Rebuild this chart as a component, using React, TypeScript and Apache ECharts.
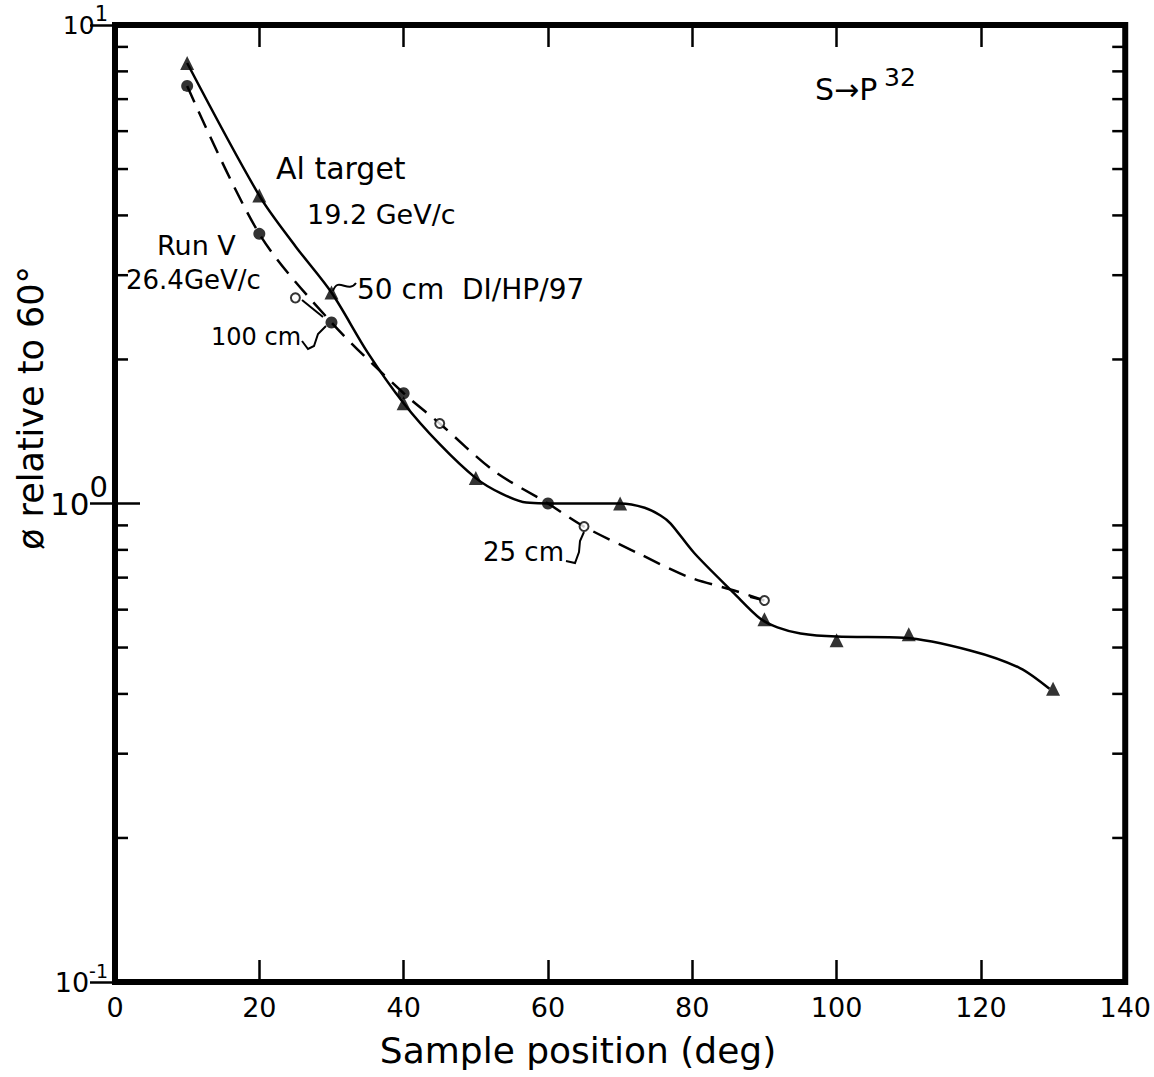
import React, { useEffect, useRef } from "react";
import * as echarts from "echarts";

// ---- data ----
const xTickLabels = ["0", "20", "40", "60", "80", "100", "120", "140"];

// 50 cm, 19.2 GeV/c (triangles, solid curve)
const triX = [10, 20, 30, 40, 50, 70, 90, 100, 110, 130];
const triY = [8.33, 4.4, 2.76, 1.62, 1.13, 1.0, 0.573, 0.518, 0.533, 0.41];

// 100 cm, Run V 26.4 GeV/c (filled circles)
const dotX = [10, 20, 30, 40, 60];
const dotY = [7.46, 3.66, 2.39, 1.7, 1.0];

// 25 cm (open circles)
const ringX = [25, 45, 65, 90];
const ringY = [2.69, 1.47, 0.895, 0.627];

// hand-drawn solid curve
const solidX = [10, 20, 25, 30, 35, 40, 45, 50, 53.5, 57, 63, 70, 73.4, 75.6, 77, 80.3, 85.8, 89.4, 91.8, 95, 100, 109.3, 118.5, 125.4, 129.5];
const solidY = [8.33, 4.4, 3.45, 2.76, 2.07, 1.62, 1.33, 1.13, 1.05, 1.005, 1.0, 1.0, 0.98, 0.944, 0.908, 0.787, 0.649, 0.575, 0.551, 0.535, 0.527, 0.524, 0.493, 0.453, 0.41];

// hand-drawn dashed curve
const dashX = [10, 20, 30, 40, 45, 52.5, 60, 65, 72.5, 79.5, 85.8, 90];
const dashY = [7.46, 3.66, 2.39, 1.7, 1.47, 1.17, 1.0, 0.895, 0.787, 0.702, 0.658, 0.627];

// log-axis minor tick values
const minorTicks = [0.2, 0.3, 0.4, 0.5, 0.6, 0.7, 0.8, 0.9, 2, 3, 4, 5, 6, 7, 8, 9];

const FONT = "'DejaVu Sans', 'Liberation Sans', sans-serif";

const zip = (xs: number[], ys: number[]) => xs.map((x, i) => [x, ys[i]]);

export default function App() {
  const ref = useRef<HTMLDivElement>(null);
  useEffect(() => {
    if (!ref.current) return;
    const chart = echarts.init(ref.current, null, { renderer: "svg" });
    const black = "#000";
    const yLabelRich = {
      b1: { fontSize: 25, fontFamily: FONT, color: black },
      s1: { fontSize: 21, fontFamily: FONT, color: black, padding: [0, 0, 22, 0] },
      b0: { fontSize: 31, fontFamily: FONT, color: black },
      s0: { fontSize: 29, fontFamily: FONT, color: black, padding: [0, 0, 34, 0] },
      bm: { fontSize: 27, fontFamily: FONT, color: black },
      sm: { fontSize: 19, fontFamily: FONT, color: black, padding: [0, 0, 22, 0] },
    };
    const option: any = {
      animation: false,
      backgroundColor: "#fff",
      grid: {
        left: 115,
        right: 26,
        top: 25,
        bottom: 95,
        show: true,
        borderColor: black,
        borderWidth: 6,
        backgroundColor: "transparent",
      },
      xAxis: [
        {
          type: "value",
          min: 0,
          max: 140,
          interval: 20,
          position: "bottom",
          axisLine: { show: false },
          splitLine: { show: false },
          axisTick: { inside: true, length: 22, lineStyle: { color: black, width: 2.5 } },
          axisLabel: {
            margin: 12,
            fontSize: 27,
            fontFamily: FONT,
            color: black,
            formatter: (v: number) => xTickLabels[Math.round(v / 20)] ?? String(v),
          },
        },
        {
          type: "value",
          min: 0,
          max: 140,
          interval: 20,
          position: "top",
          axisLine: { show: false },
          splitLine: { show: false },
          axisTick: { inside: true, length: 22, lineStyle: { color: black, width: 2.5 } },
          axisLabel: { show: false },
        },
      ],
      yAxis: [
        {
          type: "log",
          logBase: 10,
          min: 0.1,
          max: 10,
          position: "left",
          axisLine: { show: false },
          splitLine: { show: false },
          axisTick: { inside: true, length: 25, lineStyle: { color: black, width: 2.5 } },
          axisLabel: {
            margin: 7,
            formatter: (v: number) => {
              const e = Math.round(Math.log10(v));
              if (e === 1) return "{b1|10}{s1|1}";
              if (e === 0) return "{b0|10}{s0|0}";
              return "{bm|10}{sm|-1}";
            },
            rich: yLabelRich,
          },
        },
        {
          type: "log",
          logBase: 10,
          min: 0.1,
          max: 10,
          position: "right",
          axisLine: { show: false },
          splitLine: { show: false },
          axisTick: { inside: true, length: 25, lineStyle: { color: black, width: 2.5 } },
          axisLabel: { show: false },
        },
      ],
      series: [
        {
          type: "custom",
          name: "minor ticks",
          silent: true,
          xAxisIndex: 0,
          yAxisIndex: 0,
          encode: { x: 0, y: 1 },
          data: minorTicks.map((v) => [0, v]),
          renderItem: (params: any, api: any) => {
            const y = api.coord([0, api.value(1)])[1];
            const cs = params.coordSys;
            const st = { stroke: black, lineWidth: 2.5 };
            return {
              type: "group",
              children: [
                { type: "line", shape: { x1: cs.x, y1: y, x2: cs.x + 13, y2: y }, style: st },
                { type: "line", shape: { x1: cs.x + cs.width - 13, y1: y, x2: cs.x + cs.width, y2: y }, style: st },
              ],
            };
          },
        },
        {
          type: "line",
          name: "50 cm curve",
          data: zip(solidX, solidY),
          smooth: 0.3,
          showSymbol: false,
          silent: true,
          lineStyle: { color: black, width: 2.5 },
          z: 3,
        },
        {
          type: "line",
          name: "100 cm / 25 cm curve",
          data: zip(dashX, dashY),
          smooth: 0.3,
          showSymbol: false,
          silent: true,
          lineStyle: { color: black, width: 2.5, type: [18, 10] },
          z: 3,
        },
        {
          type: "scatter",
          name: "50 cm",
          data: zip(triX, triY),
          symbol: "triangle",
          symbolSize: 14,
          itemStyle: { color: black },
          z: 5,
        },
        {
          type: "scatter",
          name: "100 cm",
          data: zip(dotX, dotY),
          symbol: "circle",
          symbolSize: 12,
          itemStyle: { color: black },
          z: 5,
        },
        {
          type: "scatter",
          name: "25 cm",
          data: zip(ringX, ringY),
          symbol: "circle",
          symbolSize: 9,
          itemStyle: { color: "#fff", borderColor: black, borderWidth: 2 },
          z: 6,
        },
      ],
      graphic: [
        {
          type: "text",
          x: 578,
          y: 1050,
          style: { text: "Sample position (deg)", fontSize: 36, fontFamily: FONT, fill: black, align: "center", verticalAlign: "middle" },
        },
        {
          type: "text",
          x: 31,
          y: 408,
          rotation: Math.PI / 2,
          style: { text: "ø relative to 60°", fontSize: 35, fontFamily: FONT, fill: black, align: "center", verticalAlign: "middle" },
        },
        {
          type: "text",
          x: 815,
          y: 89,
          style: { text: "S→P", fontSize: 30, fontFamily: FONT, fill: black, align: "left", verticalAlign: "middle" },
        },
        {
          type: "text",
          x: 884,
          y: 77,
          style: { text: "32", fontSize: 25, fontFamily: FONT, fill: black, align: "left", verticalAlign: "middle" },
        },
        {
          type: "text",
          x: 276,
          y: 168,
          style: { text: "Al target", fontSize: 30, fontFamily: FONT, fill: black, align: "left", verticalAlign: "middle" },
        },
        {
          type: "text",
          x: 307,
          y: 214,
          style: { text: "19.2 GeV/c", fontSize: 27, fontFamily: FONT, fill: black, align: "left", verticalAlign: "middle" },
        },
        {
          type: "text",
          x: 157,
          y: 245,
          style: { text: "Run Ⅴ", fontSize: 27, fontFamily: FONT, fill: black, align: "left", verticalAlign: "middle" },
        },
        {
          type: "text",
          x: 126,
          y: 280,
          style: { text: "26.4GeV/c", fontSize: 26, fontFamily: FONT, fill: black, align: "left", verticalAlign: "middle" },
        },
        {
          type: "text",
          x: 357,
          y: 289,
          style: { text: "50 cm  DI/HP/97", fontSize: 28, fontFamily: FONT, fill: black, align: "left", verticalAlign: "middle" },
        },
        {
          type: "text",
          x: 211,
          y: 337,
          style: { text: "100 cm", fontSize: 24, fontFamily: FONT, fill: black, align: "left", verticalAlign: "middle" },
        },
        {
          type: "text",
          x: 483,
          y: 552,
          style: { text: "25 cm", fontSize: 26, fontFamily: FONT, fill: black, align: "left", verticalAlign: "middle" },
        },
        {
          type: "bezierCurve",
          shape: { x1: 333, y1: 291, cpx1: 338, cpy1: 276, cpx2: 348, cpy2: 294, x2: 356, y2: 283 },
          style: { stroke: black, lineWidth: 2, fill: "none" },
        },
        {
          type: "polyline",
          shape: { points: [[302, 341], [308, 349], [314, 346], [318, 334], [326, 326]] },
          style: { stroke: black, lineWidth: 2, fill: "none" },
        },
        {
          type: "polyline",
          shape: { points: [[566, 561], [575, 563], [579, 552], [580, 541], [584, 532]] },
          style: { stroke: black, lineWidth: 2, fill: "none" },
        },
        {
          type: "line",
          shape: { x1: 302, y1: 300, x2: 323, y2: 317 },
          style: { stroke: black, lineWidth: 2 },
        },
        {
          type: "line",
          shape: { x1: 750, y1: 597, x2: 762, y2: 600 },
          style: { stroke: black, lineWidth: 2 },
        },
      ],
    };
    chart.setOption(option);
    return () => chart.dispose();
  }, []);
  return (
    <div
      ref={ref}
      style={{ position: "absolute", left: 0, top: 0, width: 1154, height: 1077, background: "#fff" }}
    />
  );
}
